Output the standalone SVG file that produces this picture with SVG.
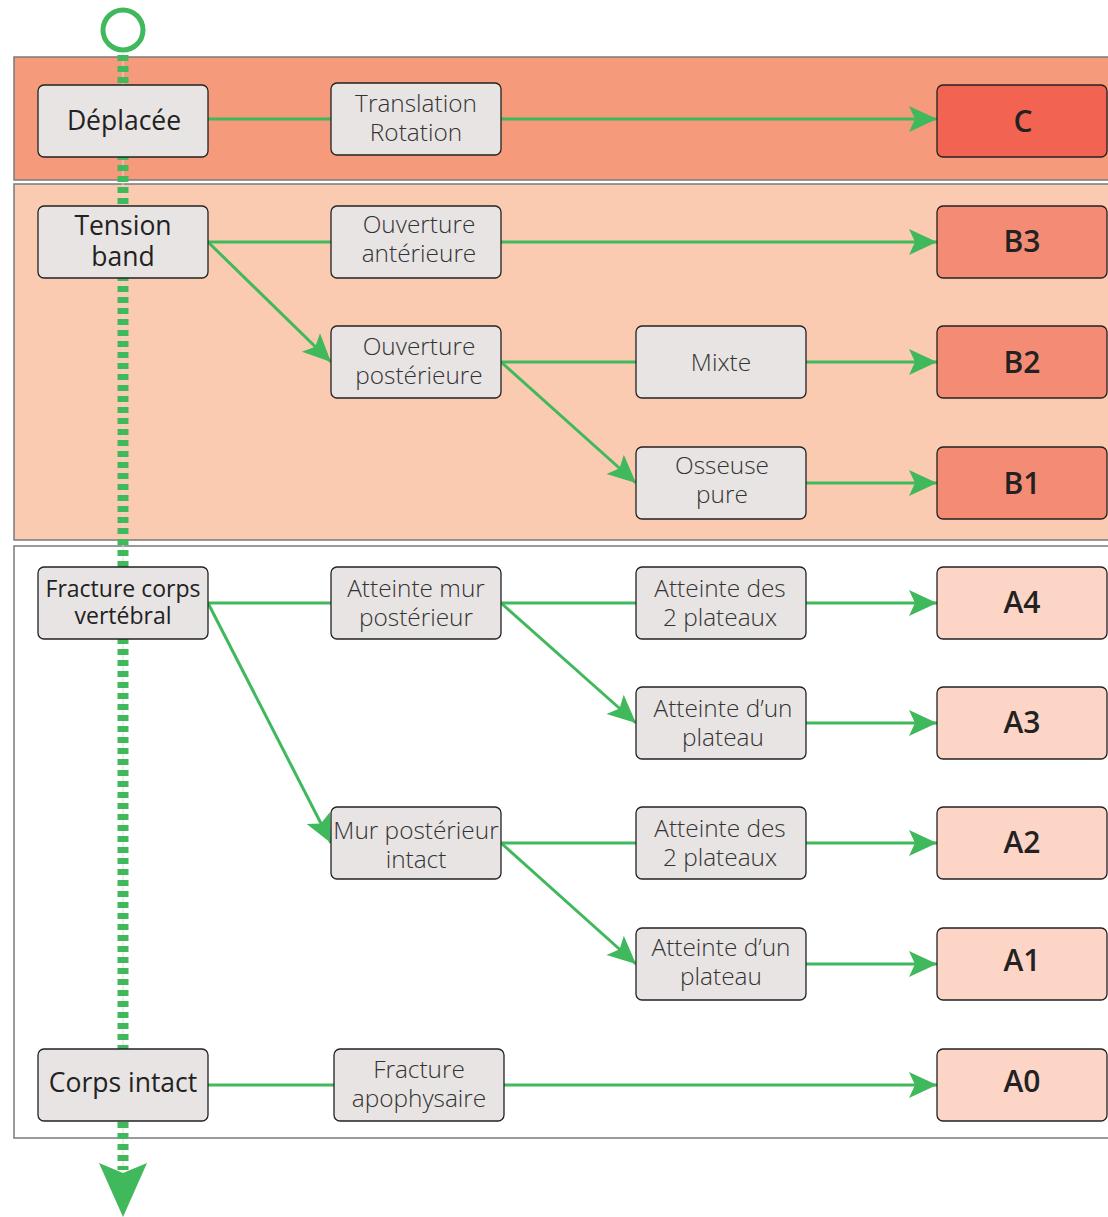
<svg xmlns="http://www.w3.org/2000/svg" width="1108" height="1217" viewBox="0 0 1108 1217">
<defs>
<marker id="arr" viewBox="-30 -15 32 30" markerWidth="32" markerHeight="30" refX="0" refY="0" orient="auto" markerUnits="userSpaceOnUse">
<path d="M0,0 L-28,-13 L-22,0 L-28,13 Z" fill="#40B85C"/>
</marker>
</defs>
<style>
.band{stroke:#7a7a7a;stroke-width:1.5}
.n{fill:#E8E4E4;stroke:#222;stroke-width:1.3}
.rc{fill:#F26451;stroke:#222;stroke-width:1.3}
.rb{fill:#F48B74;stroke:#222;stroke-width:1.3}
.ra{fill:#FCD5C7;stroke:#222;stroke-width:1.3}
.t1{font-family:"Open Sans","Noto Sans",sans-serif;font-size:26.5px;fill:#222;text-anchor:middle}
.t1s{font-family:"Open Sans","Noto Sans",sans-serif;font-size:23px;fill:#222;text-anchor:middle}
.t2{font-family:"Open Sans","Noto Sans",sans-serif;font-size:24.4px;font-weight:300;fill:#333;text-anchor:middle}
.t3{font-family:"Open Sans","Noto Sans",sans-serif;font-size:30px;font-weight:600;fill:#222;text-anchor:middle}
.e{stroke:#40B85C;stroke-width:3;fill:none}
.ea{stroke:#40B85C;stroke-width:3;fill:none;marker-end:url(#arr)}
</style>
<g id="bands">
<rect class="band" x="14" y="57" width="1100" height="123" fill="#F59A7A"/>
<rect class="band" x="14" y="184" width="1100" height="356" fill="#FACBB1"/>
<rect class="band" x="14" y="546" width="1100" height="592" fill="#FFFFFF"/>
</g>
<g id="spine">
<circle cx="123" cy="30" r="20" fill="none" stroke="#40B85C" stroke-width="5"/>
<line x1="123" y1="52" x2="123" y2="1172" stroke="#dddddd" stroke-width="1"/>
<line x1="123" y1="55" x2="123" y2="1170" stroke="#40B85C" stroke-width="11" stroke-dasharray="6 5"/>
<path d="M99,1163 L123,1173 L147,1163 L123,1217 Z" fill="#40B85C"/>
</g>
<g id="connectors">
<line class="e" x1="208" y1="119" x2="331" y2="119"/>
<line class="ea" x1="501" y1="119" x2="937" y2="119"/>
<line class="e" x1="208" y1="242" x2="331" y2="242"/>
<line class="ea" x1="501" y1="242" x2="937" y2="242"/>
<line class="ea" x1="208" y1="242" x2="331" y2="362"/>
<line class="e" x1="501" y1="362" x2="636" y2="362"/>
<line class="ea" x1="806" y1="362" x2="937" y2="362"/>
<line class="ea" x1="501" y1="362" x2="636" y2="483"/>
<line class="ea" x1="806" y1="483" x2="937" y2="483"/>
<line class="e" x1="208" y1="603" x2="331" y2="603"/>
<line class="e" x1="501" y1="603" x2="636" y2="603"/>
<line class="ea" x1="806" y1="603" x2="937" y2="603"/>
<line class="ea" x1="501" y1="603" x2="636" y2="723"/>
<line class="ea" x1="806" y1="723" x2="937" y2="723"/>
<line class="ea" x1="208" y1="603" x2="331" y2="843"/>
<line class="e" x1="501" y1="843" x2="636" y2="843"/>
<line class="ea" x1="806" y1="843" x2="937" y2="843"/>
<line class="ea" x1="501" y1="843" x2="636" y2="964"/>
<line class="ea" x1="806" y1="964" x2="937" y2="964"/>
<line class="e" x1="208" y1="1085" x2="334" y2="1085"/>
<line class="ea" x1="504" y1="1085" x2="937" y2="1085"/>
</g>
<g id="n-deplacee"><rect class="n" x="38" y="85" width="170" height="72" rx="6"/><text class="t1" x="124" y="130">Déplacée</text></g>
<g id="n-translation"><rect class="n" x="331" y="83" width="170" height="72" rx="6"/><text class="t2" x="416" y="112">Translation</text><text class="t2" x="416" y="141">Rotation</text></g>
<g id="n-C"><rect class="rc" x="937" y="85" width="170" height="72" rx="6"/><text class="t3" x="1023" y="132">C</text></g>
<g id="n-tension"><rect class="n" x="38" y="206" width="170" height="72" rx="6"/><text class="t1" x="123" y="235">Tension</text><text class="t1" x="123" y="266">band</text></g>
<g id="n-ouv-ant"><rect class="n" x="331" y="206" width="170" height="72" rx="6"/><text class="t2" x="419" y="233">Ouverture</text><text class="t2" x="419" y="262">antérieure</text></g>
<g id="n-B3"><rect class="rb" x="937" y="206" width="170" height="72" rx="6"/><text class="t3" x="1022" y="252">B3</text></g>
<g id="n-ouv-post"><rect class="n" x="331" y="326" width="170" height="72" rx="6"/><text class="t2" x="419" y="355">Ouverture</text><text class="t2" x="419" y="384">postérieure</text></g>
<g id="n-mixte"><rect class="n" x="636" y="326" width="170" height="72" rx="6"/><text class="t2" x="721" y="371">Mixte</text></g>
<g id="n-B2"><rect class="rb" x="937" y="326" width="170" height="72" rx="6"/><text class="t3" x="1022" y="373">B2</text></g>
<g id="n-osseuse"><rect class="n" x="636" y="447" width="170" height="72" rx="6"/><text class="t2" x="722" y="474">Osseuse</text><text class="t2" x="722" y="503">pure</text></g>
<g id="n-B1"><rect class="rb" x="937" y="447" width="170" height="72" rx="6"/><text class="t3" x="1022" y="494">B1</text></g>
<g id="n-fracture"><rect class="n" x="38" y="567" width="170" height="72" rx="6"/><text class="t1s" x="123" y="597">Fracture corps</text><text class="t1s" x="123" y="624">vertébral</text></g>
<g id="n-mur"><rect class="n" x="331" y="567" width="170" height="72" rx="6"/><text class="t2" x="416" y="597">Atteinte mur</text><text class="t2" x="416" y="626">postérieur</text></g>
<g id="n-2plat-1"><rect class="n" x="636" y="567" width="170" height="72" rx="6"/><text class="t2" x="720" y="597">Atteinte des</text><text class="t2" x="720" y="626">2 plateaux</text></g>
<g id="n-A4"><rect class="ra" x="937" y="567" width="170" height="72" rx="6"/><text class="t3" x="1022" y="613">A4</text></g>
<g id="n-1plat-1"><rect class="n" x="636" y="687" width="170" height="72" rx="6"/><text class="t2" x="723" y="717">Atteinte d’un</text><text class="t2" x="723" y="746">plateau</text></g>
<g id="n-A3"><rect class="ra" x="937" y="687" width="170" height="72" rx="6"/><text class="t3" x="1022" y="733">A3</text></g>
<g id="n-murintact"><rect class="n" x="331" y="807" width="170" height="72" rx="6"/><text class="t2" x="416" y="839">Mur postérieur</text><text class="t2" x="416" y="868">intact</text></g>
<g id="n-2plat-2"><rect class="n" x="636" y="807" width="170" height="72" rx="6"/><text class="t2" x="720" y="837">Atteinte des</text><text class="t2" x="720" y="866">2 plateaux</text></g>
<g id="n-A2"><rect class="ra" x="937" y="807" width="170" height="72" rx="6"/><text class="t3" x="1022" y="853">A2</text></g>
<g id="n-1plat-2"><rect class="n" x="636" y="928" width="170" height="72" rx="6"/><text class="t2" x="721" y="956">Atteinte d’un</text><text class="t2" x="721" y="985">plateau</text></g>
<g id="n-A1"><rect class="ra" x="937" y="928" width="170" height="72" rx="6"/><text class="t3" x="1022" y="971">A1</text></g>
<g id="n-corps"><rect class="n" x="38" y="1049" width="170" height="72" rx="6"/><text class="t1" x="123" y="1092">Corps intact</text></g>
<g id="n-apophysaire"><rect class="n" x="334" y="1049" width="170" height="72" rx="6"/><text class="t2" x="419" y="1078">Fracture</text><text class="t2" x="419" y="1107">apophysaire</text></g>
<g id="n-A0"><rect class="ra" x="937" y="1049" width="170" height="72" rx="6"/><text class="t3" x="1022" y="1092">A0</text></g>
</svg>
